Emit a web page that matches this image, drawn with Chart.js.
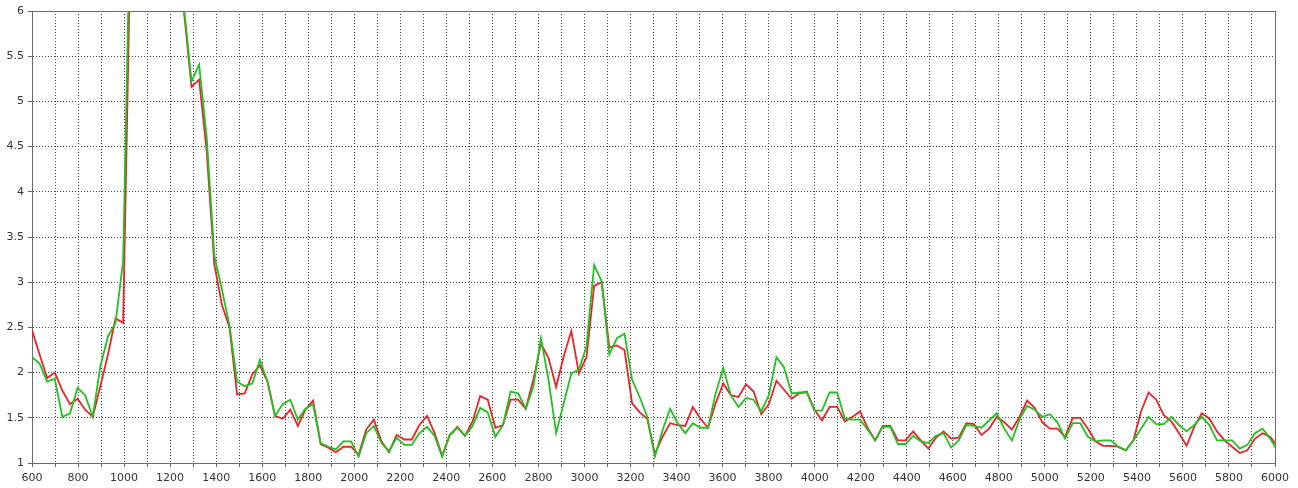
<!DOCTYPE html>
<html>
<head>
<meta charset="utf-8">
<script src="https://cdn.jsdelivr.net/npm/chart.js@4/dist/chart.umd.min.js"></script>
<style>
html,body{margin:0;padding:0;background:#fff;}
#wrap{width:1298px;height:488px;}
</style>
</head>
<body>
<div id="wrap"><canvas id="c" width="1298" height="488"></canvas></div>
<script>
// sample positions (x axis)
const xValues = [600,633,666,699,732,765,798,831,864,897,930,963,996,1029,1062,1095,1128,1161,1194,1227,
1260,1293,1326,1359,1392,1425,1458,1491,1524,1557,1590,1623,1656,1689,1722,1755,1788,1821,1854,1887,
1920,1953,1986,2019,2052,2085,2118,2151,2184,2217,2250,2283,2316,2349,2382,2415,2448,2481,2514,2547,
2580,2613,2646,2679,2712,2745,2778,2811,2844,2877,2910,2943,2976,3009,3042,3075,3108,3141,3174,3207,
3240,3273,3306,3339,3372,3405,3438,3471,3504,3537,3570,3603,3636,3669,3702,3735,3768,3801,3834,3867,
3900,3933,3966,3999,4032,4065,4098,4131,4164,4197,4230,4263,4296,4329,4362,4395,4428,4461,4494,4527,
4560,4593,4626,4659,4692,4725,4758,4791,4824,4857,4890,4923,4956,4989,5022,5055,5088,5121,5154,5187,
5220,5253,5286,5319,5352,5385,5418,5451,5484,5517,5550,5583,5616,5649,5682,5715,5748,5781,5814,5847,
5880,5913,5946,5979,6012];

// red series
const redValues = [2.47,2.20,1.94,2.00,1.80,1.65,1.71,1.59,1.51,1.85,2.20,2.60,2.55,6.9,9.5,11,11.5,11,10,8.5,
6.0,5.16,5.24,4.45,3.20,2.75,2.50,1.76,1.77,1.98,2.08,1.90,1.52,1.49,1.59,1.41,1.59,1.69,1.21,1.17,
1.12,1.18,1.18,1.09,1.37,1.48,1.24,1.12,1.31,1.26,1.26,1.42,1.52,1.33,1.08,1.31,1.40,1.30,1.46,1.74,
1.70,1.39,1.42,1.70,1.70,1.60,1.92,2.32,2.16,1.84,2.18,2.46,1.99,2.17,2.96,3.00,2.28,2.30,2.25,1.66,
1.56,1.49,1.10,1.29,1.44,1.42,1.41,1.62,1.49,1.39,1.66,1.88,1.75,1.73,1.87,1.79,1.54,1.65,1.91,1.81,
1.71,1.77,1.79,1.59,1.47,1.62,1.62,1.46,1.51,1.57,1.39,1.25,1.41,1.41,1.25,1.25,1.35,1.25,1.16,1.28,
1.35,1.27,1.28,1.44,1.43,1.31,1.38,1.51,1.45,1.37,1.51,1.69,1.61,1.45,1.38,1.38,1.29,1.50,1.50,1.38,
1.24,1.19,1.19,1.18,1.14,1.25,1.57,1.78,1.70,1.53,1.46,1.33,1.19,1.40,1.55,1.49,1.35,1.25,1.18,1.11,
1.14,1.27,1.33,1.29,1.18];

// green series
const greenValues = [2.17,2.10,1.90,1.93,1.51,1.55,1.83,1.75,1.51,2.07,2.40,2.55,3.24,7.35,10,11.5,12,11.5,10.5,9,
6.05,5.22,5.41,4.60,3.30,2.92,2.52,1.90,1.85,1.88,2.14,1.90,1.52,1.65,1.70,1.48,1.60,1.65,1.22,1.18,
1.15,1.24,1.24,1.07,1.33,1.41,1.22,1.13,1.28,1.20,1.20,1.33,1.40,1.30,1.07,1.31,1.39,1.30,1.41,1.61,
1.56,1.29,1.42,1.79,1.77,1.60,1.84,2.38,1.92,1.33,1.66,1.99,2.03,2.29,3.19,3.01,2.20,2.38,2.43,1.92,
1.73,1.51,1.07,1.36,1.60,1.44,1.33,1.44,1.39,1.39,1.77,2.05,1.75,1.62,1.72,1.70,1.57,1.75,2.17,2.06,
1.77,1.78,1.78,1.58,1.58,1.78,1.78,1.49,1.48,1.48,1.37,1.25,1.40,1.40,1.21,1.21,1.30,1.24,1.22,1.30,
1.33,1.17,1.25,1.42,1.41,1.39,1.47,1.55,1.38,1.25,1.48,1.63,1.59,1.51,1.54,1.45,1.27,1.44,1.44,1.29,
1.24,1.25,1.25,1.18,1.14,1.25,1.38,1.51,1.43,1.43,1.51,1.42,1.35,1.42,1.51,1.42,1.25,1.25,1.25,1.16,
1.20,1.33,1.38,1.27,1.13];

// axis ranges / ticks
const xMin = 600, xMax = 6000, xGridStep = 100, xLabelStep = 200;
const yMin = 1, yMax = 6, yStep = 0.5;

const toPoints = ys => xValues.map((x, i) => ({x: x, y: ys[i]}));

const frame = {
  id: 'frame',
  beforeDatasetsDraw(chart) {
    const a = chart.chartArea, ctx = chart.ctx;
    ctx.save();
    ctx.strokeStyle = '#6a6a6a';
    ctx.lineWidth = 1;
    ctx.beginPath();
    ctx.moveTo(Math.round(a.left) + 0.5, Math.round(a.top) + 0.5);
    ctx.lineTo(Math.round(a.right) + 0.5, Math.round(a.top) + 0.5);
    ctx.lineTo(Math.round(a.right) + 0.5, Math.round(a.bottom) + 0.5);
    ctx.stroke();
    ctx.restore();
  }
};

const font = {family: '"DejaVu Sans", Verdana, sans-serif', size: 11};

new Chart(document.getElementById('c'), {
  type: 'line',
  data: {
    datasets: [
      {label: 'green', data: toPoints(greenValues), borderColor: '#22c022', borderWidth: 1.8,
       pointRadius: 0, tension: 0, fill: false},
      {label: 'red', data: toPoints(redValues), borderColor: '#e8232a', borderWidth: 1.8,
       pointRadius: 0, tension: 0, fill: false}
    ]
  },
  options: {
    responsive: false,
    animation: false,
    events: [],
    layout: {padding: {left: 0, top: 11, right: 23, bottom: 0}},
    plugins: {legend: {display: false}, tooltip: {enabled: false}},
    scales: {
      x: {
        type: 'linear', min: xMin, max: xMax,
        afterFit(s) { s.height = 25; },
        ticks: {
          stepSize: xGridStep, autoSkip: false, maxRotation: 0, color: '#333', font: font, padding: 5,
          callback: v => (v % xLabelStep === 0 ? String(v) : '')
        },
        grid: {color: '#444', lineWidth: 1, tickLength: 4, tickColor: '#666', tickBorderDash: []},
        border: {display: true, color: '#6a6a6a', width: 1, dash: [1, 2]}
      },
      y: {
        min: yMin, max: yMax,
        afterFit(s) { s.width = 32; },
        ticks: {stepSize: yStep, color: '#333', font: font, padding: 4,
          callback: v => String(Math.round(v * 10) / 10)},
        grid: {color: '#444', lineWidth: 1, tickLength: 4, tickColor: '#666', tickBorderDash: []},
        border: {display: true, color: '#6a6a6a', width: 1, dash: [1, 2]}
      }
    }
  },
  plugins: [frame]
});
</script>
</body>
</html>
